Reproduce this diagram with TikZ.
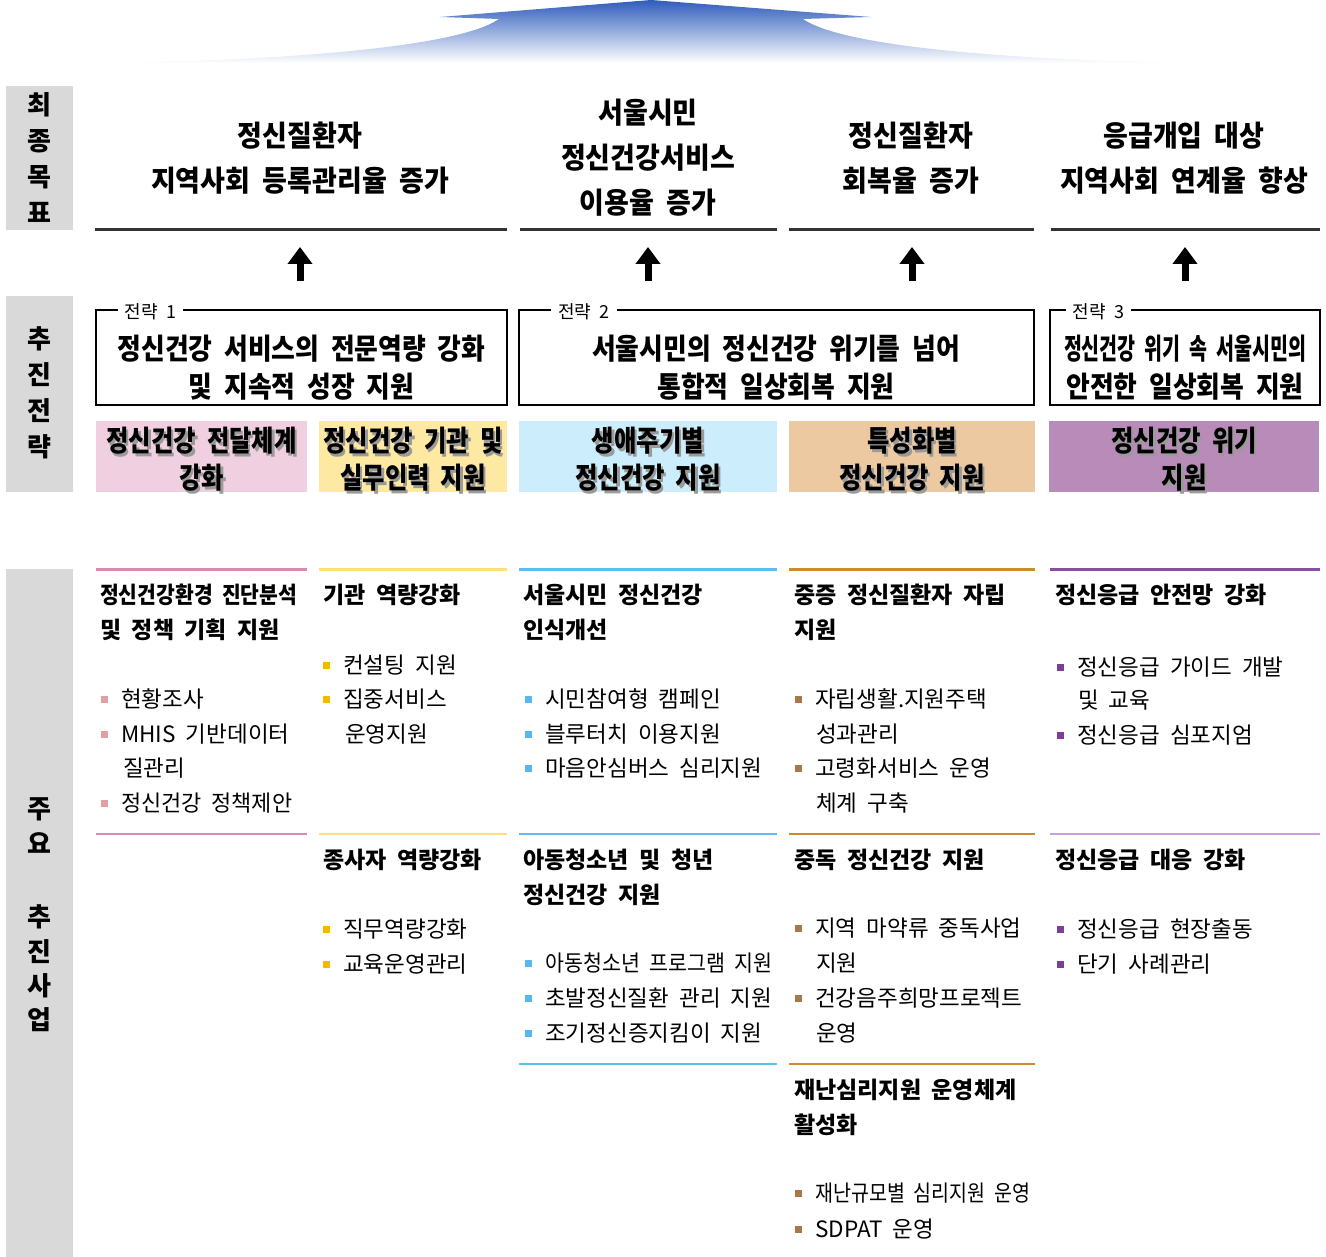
\documentclass[tikz,border=0pt]{standalone}
\usepackage{fontspec}
\setmainfont{Noto Sans CJK KR}[WordSpace=2]
\usetikzlibrary{arrows.meta}
\definecolor{sidegray}{HTML}{D9D9D9}
\definecolor{pinkbox}{HTML}{F0CFE0}
\definecolor{yelbox}{HTML}{FEE9A3}
\definecolor{bluebox}{HTML}{CCEEFC}
\definecolor{tanbox}{HTML}{EDC9A1}
\definecolor{purbox}{HTML}{B88BB9}
\definecolor{pinkln}{HTML}{D98AAE}
\definecolor{yelln}{HTML}{FDE07A}
\definecolor{blueln}{HTML}{5BBDF0}
\definecolor{orgln}{HTML}{D08A2C}
\definecolor{purln}{HTML}{8650A0}
\definecolor{lpurln}{HTML}{C8A2DC}
\definecolor{pinkbl}{HTML}{E0A0A4}
\definecolor{yelbl}{HTML}{F5B800}
\definecolor{bluebl}{HTML}{55B8F0}
\definecolor{brnbl}{HTML}{A8784A}
\definecolor{purbl}{HTML}{7B3F98}
\definecolor{goalln}{HTML}{333333}
\definecolor{topblue}{RGB}{48,92,188}
\definecolor{midblue}{RGB}{102,145,214}
\definecolor{shadowgray}{HTML}{9A9A9A}
\newsavebox\myfitbox
\newcommand\fitto[2]{\sbox\myfitbox{#2}\ifdim\wd\myfitbox>#1\relax\resizebox{#1}{\ht\myfitbox}{\usebox\myfitbox}\else\usebox\myfitbox\fi}
\newcommand\gx[1]{\scalebox{0.93}[1]{#1}}
\newcommand\stx[1]{\scalebox{0.89}[1]{#1}}
\newcommand\sbx[1]{\scalebox{0.84}[1]{#1}}
\newcommand\hd[4]{\node[hdtxt] (#1) at (#2) {\fitto{#3}{#4}};}
\newcommand\bt[4]{\node[bltxt] (#1) at (#2) {\fitto{#3}{#4}};}
\newcommand\bl[5]{\node[bltxt] (#1) at (#2) {\fitto{#4}{#5}};
  \node[bulletsq, fill=#3] (#1q) at ([xshift=-17pt]#1.west) {};}
\begin{document}
\begin{tikzpicture}[x=1pt,y=-1pt,
  sidetxt/.style={font=\bfseries\fontsize{26}{36}\selectfont, align=center, inner sep=0},
  goaltxt/.style={font=\bfseries\fontsize{29}{45}\selectfont, align=center, inner sep=0},
  goalline/.style={draw=goalln, line width=3pt},
  uparrow/.style={line width=7pt, -{Triangle[width=24pt,length=17pt]}},
  stratbox/.style={draw=black, line width=1.8pt},
  strattag/.style={fill=white, font=\fontsize{18}{20}\selectfont, inner xsep=7pt, inner ysep=1pt},
  strattxt/.style={font=\bfseries\fontsize{29}{38}\selectfont, align=center, inner sep=0},
  subtxt/.style={font=\bfseries\fontsize{29}{37}\selectfont, align=center, inner sep=0},
  hdtxt/.style={font=\bfseries\fontsize{23}{28}\selectfont, anchor=west, inner sep=0},
  bltxt/.style={font=\fontsize{22.5}{28}\selectfont, anchor=west, inner sep=0},
  bulletsq/.style={minimum size=7pt, inner sep=0, draw=none},
  colline/.style={line width=2.5pt}]
\useasboundingbox (0,0) rectangle (1326,1257);

% top arrow shape
\shade[top color=topblue, middle color=midblue, bottom color=white]
  (85,63) .. controls (250,62) and (455,50) .. (499,19) -- (440,17) -- (651,0)
  -- (871,17) -- (803,19) .. controls (847,50) and (1052,62) .. (1217,63) -- cycle;

% sidebars
\fill[sidegray] (6,86) rectangle (73,230);
\fill[sidegray] (6,296) rectangle (73,492);
\fill[sidegray] (6,569) rectangle (73,1257);
\node[sidetxt] (sb1) at (39.5,157.5) {최\\종\\목\\표};
\node[sidetxt] (sb2) at (39.5,393) {추\\진\\전\\략};
\node[sidetxt, font=\bfseries\fontsize{26}{35}\selectfont] (sb3a) at (39.5,825.5) {주\\요};
\node[sidetxt, font=\bfseries\fontsize{26}{34.3}\selectfont] (sb3b) at (39.5,968.5) {추\\진\\사\\업};

% goals
\node[goaltxt] (g1) at (300,158.5) {\gx{정신질환자}\\\gx{지역사회 등록관리율 증가}};
\node[goaltxt] (g2) at (648,157.5) {\gx{서울시민}\\\gx{정신건강서비스}\\\gx{이용율 증가}};
\node[goaltxt] (g3) at (911,158.5) {\gx{정신질환자}\\\gx{회복율 증가}};
\node[goaltxt] (g4) at (1184,158.5) {\gx{응급개입 대상}\\\gx{지역사회 연계율 향상}};
\draw[goalline] (95,230) -- (507,230);
\draw[goalline] (520,230) -- (777,230);
\draw[goalline] (789,230) -- (1034,230);
\draw[goalline] (1051,230) -- (1320,230);

% arrows
\coordinate (a1s) at (300,281); \coordinate (a1e) at (300,247);
\coordinate (a2s) at (648,281); \coordinate (a2e) at (648,247);
\coordinate (a3s) at (912,281); \coordinate (a3e) at (912,247);
\coordinate (a4s) at (1185,281); \coordinate (a4e) at (1185,247);
\draw[uparrow] (a1s) -- (a1e);
\draw[uparrow] (a2s) -- (a2e);
\draw[uparrow] (a3s) -- (a3e);
\draw[uparrow] (a4s) -- (a4e);

% strategy boxes
\draw[stratbox] (96,310) rectangle (507,405);
\draw[stratbox] (519,310) rectangle (1034,405);
\draw[stratbox] (1050,310) rectangle (1320,405);
\node[strattag] (t1) at (150.5,312) {전략 1};
\node[strattag] (t2) at (584,312) {전략 2};
\node[strattag] (t3) at (1098.5,312) {전략 3};
\node[strattxt] (st1) at (301.5,368) {\stx{정신건강 서비스의 전문역량 강화}\\\stx{및 지속적 성장 지원}};
\node[strattxt] (st2) at (776,368) {\stx{서울시민의 정신건강 위기를 넘어}\\\stx{통합적 일상회복 지원}};
\node[strattxt] (st3) at (1185,368) {\fitto{242pt}{정신건강 위기 속 서울시민의}\\\stx{안전한 일상회복 지원}};

% sub-strategy boxes
\fill[pinkbox] (96,421) rectangle (307,492);
\fill[yelbox] (319,421) rectangle (507,492);
\fill[bluebox] (519,421) rectangle (777,492);
\fill[tanbox] (789,421) rectangle (1035,492);
\fill[purbox] (1049,421) rectangle (1319,492);
\node[subtxt, text=shadowgray] (s1s) at (204,462) {\sbx{정신건강 전달체계}\\\sbx{강화}};
\node[subtxt] (s1) at (201.5,459.5) {\sbx{정신건강 전달체계}\\\sbx{강화}};
\node[subtxt, text=shadowgray] (s2s) at (415.5,462) {\fitto{180pt}{\sbx{정신건강 기관 및}}\\\sbx{실무인력 지원}};
\node[subtxt] (s2) at (413,459.5) {\fitto{180pt}{\sbx{정신건강 기관 및}}\\\sbx{실무인력 지원}};
\node[subtxt, text=shadowgray] (s3s) at (650.5,462) {\sbx{생애주기별}\\\sbx{정신건강 지원}};
\node[subtxt] (s3) at (648,459.5) {\sbx{생애주기별}\\\sbx{정신건강 지원}};
\node[subtxt, text=shadowgray] (s4s) at (914.5,462) {\sbx{특성화별}\\\sbx{정신건강 지원}};
\node[subtxt] (s4) at (912,459.5) {\sbx{특성화별}\\\sbx{정신건강 지원}};
\node[subtxt, text=shadowgray] (s5s) at (1186.5,462) {\sbx{정신건강 위기}\\\sbx{지원}};
\node[subtxt] (s5) at (1184,459.5) {\sbx{정신건강 위기}\\\sbx{지원}};

% column rules
\draw[colline, pinkln] (96,569.5) -- (307,569.5);
\draw[colline, yelln] (319,569.5) -- (507,569.5);
\draw[colline, blueln] (519,569.5) -- (777,569.5);
\draw[colline, orgln] (789,569.5) -- (1035,569.5);
\draw[colline, purln] (1050,569.5) -- (1320,569.5);
\draw[colline, pinkln] (96,834) -- (307,834);
\draw[colline, yelln] (319,834) -- (507,834);
\draw[colline, blueln] (519,834) -- (777,834);
\draw[colline, orgln] (789,834) -- (1035,834);
\draw[colline, lpurln] (1050,834) -- (1320,834);
\draw[colline, blueln] (519,1064) -- (777,1064);
\draw[colline, orgln] (789,1064) -- (1035,1064);

% column 1
\hd{c1h1}{100,595}{197pt}{정신건강환경 진단분석}
\hd{c1h2}{100,630}{200pt}{및 정책 기획 지원}
\bl{c1b1}{121,699}{pinkbl}{179pt}{현황조사}
\bl{c1b2}{121,734}{pinkbl}{172pt}{MHIS 기반데이터}
\bt{c1b3}{123,768}{179pt}{질관리}
\bl{c1b4}{121,803}{pinkbl}{171pt}{정신건강 정책제안}

% column 2
\hd{c2h1}{323,595}{182pt}{기관 역량강화}
\bl{c2b1}{343,665}{yelbl}{162pt}{컨설팅 지원}
\bl{c2b2}{343,699}{yelbl}{162pt}{집중서비스}
\bt{c2b3}{345,734}{162pt}{운영지원}
\hd{c2h2}{323,860}{182pt}{종사자 역량강화}
\bl{c2b4}{343,929}{yelbl}{162pt}{직무역량강화}
\bl{c2b5}{343,964}{yelbl}{162pt}{교육운영관리}

% column 3
\hd{c3h1}{523,595}{252pt}{서울시민 정신건강}
\hd{c3h2}{523,630}{252pt}{인식개선}
\bl{c3b1}{545,699}{bluebl}{230pt}{시민참여형 캠페인}
\bl{c3b2}{545,734}{bluebl}{230pt}{블루터치 이용지원}
\bl{c3b3}{545,768}{bluebl}{227pt}{마음안심버스 심리지원}
\hd{c3h3}{523,860}{252pt}{아동청소년 및 청년}
\hd{c3h4}{523,895}{252pt}{정신건강 지원}
\bl{c3b4}{545,963}{bluebl}{227pt}{아동청소년 프로그램 지원}
\bl{c3b5}{545,998}{bluebl}{227pt}{초발정신질환 관리 지원}
\bl{c3b6}{545,1033}{bluebl}{227pt}{조기정신증지킴이 지원}

% column 4
\hd{c4h1}{794,595}{240pt}{중증 정신질환자 자립}
\hd{c4h2}{794,630}{240pt}{지원}
\bl{c4b1}{815,699}{brnbl}{217pt}{자립생활.지원주택}
\bt{c4b2}{816,734}{217pt}{성과관리}
\bl{c4b3}{815,768}{brnbl}{217pt}{고령화서비스 운영}
\bt{c4b4}{816,803}{217pt}{체계 구축}
\hd{c4h3}{794,860}{240pt}{중독 정신건강 지원}
\bl{c4b5}{815,928}{brnbl}{217pt}{지역 마약류 중독사업}
\bt{c4b6}{816,963}{217pt}{지원}
\bl{c4b7}{815,998}{brnbl}{215pt}{건강음주희망프로젝트}
\bt{c4b8}{816,1033}{217pt}{운영}
\hd{c4h4}{794,1090}{224pt}{재난심리지원 운영체계}
\hd{c4h5}{794,1125}{240pt}{활성화}
\bl{c4b9}{815,1193}{brnbl}{215pt}{재난규모별 심리지원 운영}
\bl{c4b10}{815,1229}{brnbl}{217pt}{SDPAT 운영}

% column 5
\hd{c5h1}{1055,595}{263pt}{정신응급 안전망 강화}
\bl{c5b1}{1077,667}{purbl}{241pt}{정신응급 가이드 개발}
\bt{c5b2}{1078,700}{241pt}{및 교육}
\bl{c5b3}{1077,735}{purbl}{241pt}{정신응급 심포지엄}
\hd{c5h2}{1055,860}{263pt}{정신응급 대응 강화}
\bl{c5b4}{1077,929}{purbl}{241pt}{정신응급 현장출동}
\bl{c5b5}{1077,964}{purbl}{241pt}{단기 사례관리}
\end{tikzpicture}
\end{document}
